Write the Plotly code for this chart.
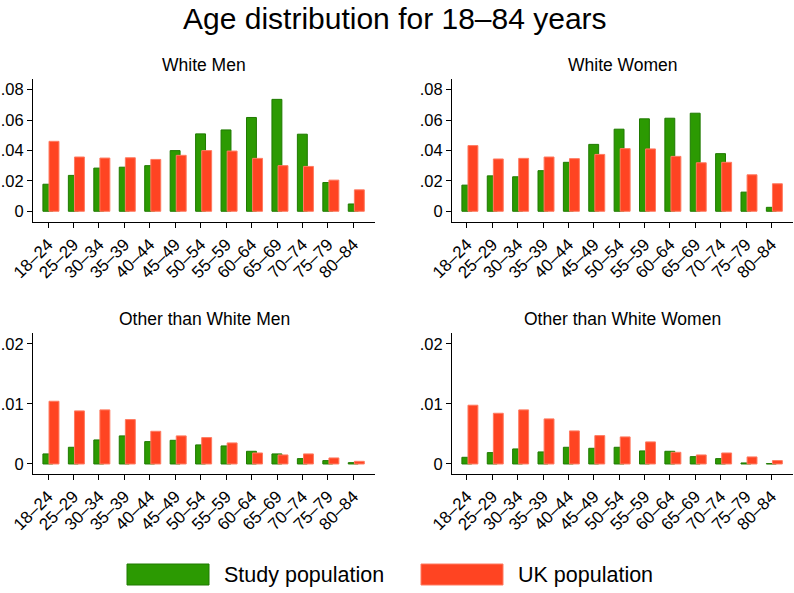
import plotly.graph_objects as go

# age groups shown on the x axis
age_groups = ["18–24", "25–29", "30–34", "35–39", "40–44", "45–49", "50–54",
              "55–59", "60–64", "65–69", "70–74", "75–79", "80–84"]

# White Men
wm_study = [0.0178, 0.0236, 0.0284, 0.0290, 0.0300, 0.0399, 0.0509,
            0.0535, 0.0617, 0.0736, 0.0507, 0.0189, 0.0048]
wm_uk = [0.0460, 0.0357, 0.0350, 0.0352, 0.0341, 0.0368, 0.0399,
         0.0396, 0.0348, 0.0300, 0.0295, 0.0205, 0.0141]

# White Women
ww_study = [0.0172, 0.0233, 0.0227, 0.0267, 0.0322, 0.0440, 0.0540,
            0.0608, 0.0612, 0.0645, 0.0379, 0.0126, 0.0026]
ww_uk = [0.0432, 0.0344, 0.0348, 0.0357, 0.0346, 0.0374, 0.0412,
         0.0410, 0.0361, 0.0319, 0.0322, 0.0240, 0.0181]

# Other than White Men
om_study = [0.00167, 0.00278, 0.00400, 0.00467, 0.00372, 0.00394, 0.00317,
            0.00300, 0.00211, 0.00167, 0.00089, 0.00056, 0.00022]
om_uk = [0.01044, 0.00883, 0.00900, 0.00739, 0.00544, 0.00467, 0.00439,
         0.00350, 0.00183, 0.00150, 0.00167, 0.00100, 0.00044]

# Other than White Women
ow_study = [0.00111, 0.00189, 0.00250, 0.00200, 0.00278, 0.00261, 0.00278,
            0.00217, 0.00211, 0.00122, 0.00089, 0.00017, 0.00006]
ow_uk = [0.00978, 0.00844, 0.00900, 0.00750, 0.00550, 0.00472, 0.00450,
         0.00367, 0.00194, 0.00150, 0.00183, 0.00117, 0.00056]

panels = [
    ("White Men", wm_study, wm_uk),
    ("White Women", ww_study, ww_uk),
    ("Other than White Men", om_study, om_uk),
    ("Other than White Women", ow_study, ow_uk),
]

W, H = 794, 593
GREEN, GREEN_EDGE = "#2C9A02", "#1F7A00"
RED, RED_EDGE = "#FF4422", "#FF7A60"
FONT = "Liberation Sans, Arial, Helvetica, sans-serif"

# panel boxes in pixels: (left, right, top, bottom)
boxes = [(33, 375, 79, 222), (452, 793, 79, 222),
         (33, 375, 333, 474), (452, 793, 333, 474)]
top_range = [-0.00705, 0.087]
bot_range = [-0.00167, 0.0218]

fig = go.Figure()
xs = list(range(len(age_groups)))

for i, (name, study, uk) in enumerate(panels):
    ax = "" if i == 0 else str(i + 1)
    fig.add_trace(go.Bar(
        x=xs, y=study, width=0.39, offset=-0.2,
        marker=dict(color=GREEN, line=dict(color=GREEN_EDGE, width=1)),
        xaxis="x" + ax, yaxis="y" + ax, showlegend=False, name="Study population"))
    fig.add_trace(go.Bar(
        x=xs, y=uk, width=0.39, offset=0.04,
        marker=dict(color=RED, line=dict(color=RED_EDGE, width=1)),
        xaxis="x" + ax, yaxis="y" + ax, showlegend=False, name="UK population"))

    l, r, t, b = boxes[i]
    if i < 2:
        yr = top_range
        tv = [0, 0.02, 0.04, 0.06, 0.08]
        tt = ["0", ".02", ".04", ".06", ".08"]
    else:
        yr = bot_range
        tv = [0, 0.01, 0.02]
        tt = ["0", ".01", ".02"]

    fig.update_layout(**{
        "xaxis" + ax: dict(
            domain=[l / W, r / W], anchor="y" + ax, automargin=False,
            range=[-0.59, 12.85], tickvals=xs, ticktext=age_groups,
            tickangle=-45, ticks="outside", ticklen=5, tickcolor="black",
            showline=True, linecolor="black", linewidth=1,
            showgrid=False, zeroline=False,
            tickfont=dict(family=FONT, size=17, color="black")),
        "yaxis" + ax: dict(
            domain=[1 - b / H, 1 - t / H], anchor="x" + ax, automargin=False,
            range=yr, tickvals=tv, ticktext=tt,
            ticks="outside", ticklen=5, tickcolor="black",
            showline=True, linecolor="black", linewidth=1,
            showgrid=False, zeroline=False,
            tickfont=dict(family=FONT, size=16.5, color="black")),
    })

    fig.add_annotation(
        text=name, x=(l + r) / 2 / W, y=1 - (65 if i < 2 else 319) / H,
        xref="paper", yref="paper", showarrow=False,
        xanchor="center", yanchor="middle",
        font=dict(family=FONT, size=17.5, color="black"))

# title
fig.add_annotation(
    text="Age distribution for 18–84 years", x=0.497, y=1 - 19 / H,
    xref="paper", yref="paper", showarrow=False,
    xanchor="center", yanchor="middle",
    font=dict(family=FONT, size=30, color="black"))

# legend drawn by hand (wide swatches)
legend_items = [("Study population", GREEN, GREEN_EDGE, 127, 209),
                ("UK population", RED, RED_EDGE, 421, 503)]
for label, fill, edge, x0, x1 in legend_items:
    fig.add_shape(type="rect", xref="paper", yref="paper",
                  x0=x0 / W, x1=x1 / W, y0=1 - 585 / H, y1=1 - 564 / H,
                  fillcolor=fill, line=dict(color=edge, width=1))
    fig.add_annotation(
        text=label, x=(x1 + 13) / W, y=1 - 575 / H,
        xref="paper", yref="paper", showarrow=False,
        xanchor="left", yanchor="middle",
        font=dict(family=FONT, size=21.5, color="black"))

fig.update_layout(
    width=W, height=H, barmode="overlay",
    margin=dict(l=0, r=0, t=0, b=0),
    paper_bgcolor="white", plot_bgcolor="white",
    showlegend=False,
)

fig.write_html("out.html", config={"displayModeBar": False},
               post_script="document.body.style.margin='0';"
                           "document.body.style.overflow='hidden';")
